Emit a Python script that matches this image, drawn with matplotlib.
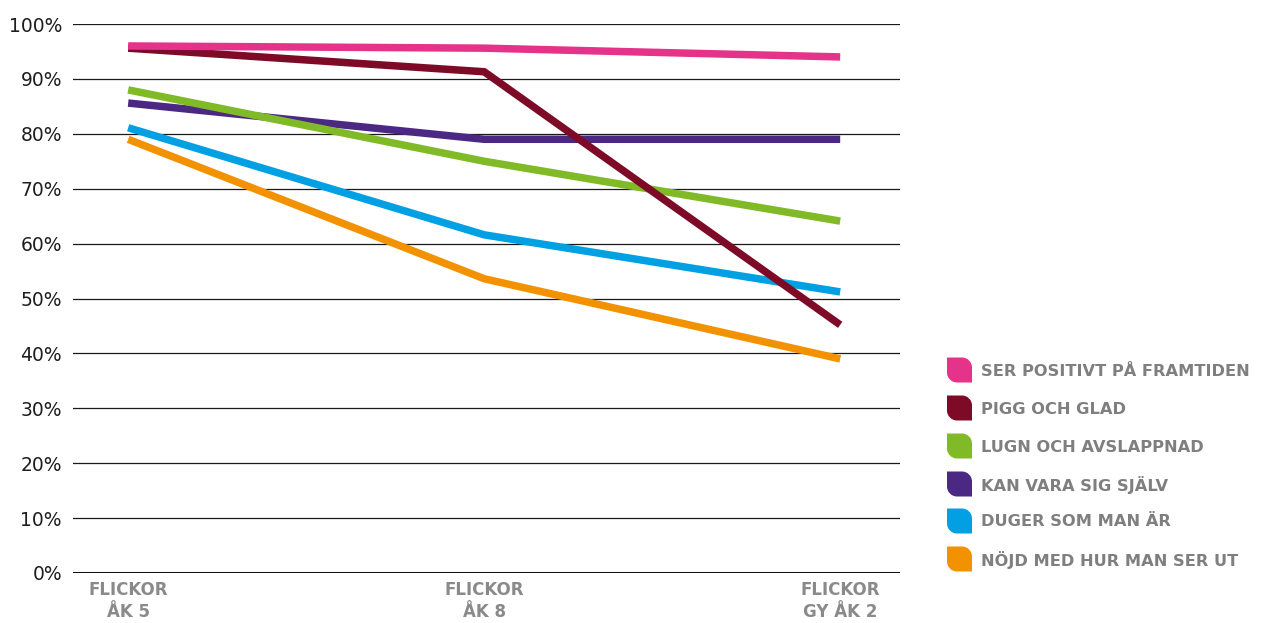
import matplotlib
matplotlib.use("Agg")
import matplotlib.pyplot as plt
from matplotlib.patches import PathPatch
from matplotlib.path import Path
from matplotlib.transforms import IdentityTransform
from matplotlib.ticker import MultipleLocator, FuncFormatter

groups = ["FLICKOR\nÅK 5", "FLICKOR\nÅK 8", "FLICKOR\nGY ÅK 2"]

series_names = [
    "SER POSITIVT PÅ FRAMTIDEN",
    "PIGG OCH GLAD",
    "LUGN OCH AVSLAPPNAD",
    "KAN VARA SIG SJÄLV",
    "DUGER SOM MAN ÄR",
    "NÖJD MED HUR MAN SER UT",
]
ser_positivt = [96.0, 95.6, 94.0]
pigg_glad = [95.6, 91.3, 45.2]
lugn = [88.0, 75.0, 64.1]
kan_vara = [85.6, 79.0, 79.0]
duger = [81.1, 61.6, 51.2]
nojd = [79.0, 53.6, 39.0]
series_values = [ser_positivt, pigg_glad, lugn, kan_vara, duger, nojd]
colors = ["#e5338a", "#7d0a27", "#80ba27", "#4b2883", "#00a0e3", "#f39200"]

W, H = 1262, 623
fig = plt.figure(figsize=(W / 100, H / 100), dpi=100)
ax = fig.add_axes([73 / W, (H - 573) / H, (900 - 73) / W, (573 - 24) / H])

x = list(range(len(groups)))
# draw lower series first so the top ones sit on top
for name, vals, c in reversed(list(zip(series_names, series_values, colors))):
    ax.plot(x, vals, color=c, lw=5.4, solid_capstyle="butt", solid_joinstyle="miter", zorder=3)

ax.set_xlim(-0.155, 2.168)
ax.set_ylim(0, 100)
ax.yaxis.set_major_locator(MultipleLocator(10))
ax.yaxis.set_major_formatter(FuncFormatter(lambda v, p: f"{int(v)}%"))
ax.grid(axis="y", color="#1a1a1a", lw=0.9, zorder=1)
ax.axhline(0, color="#111111", lw=2.2, zorder=2)
for s in ax.spines.values():
    s.set_visible(False)
ax.tick_params(axis="y", length=0, pad=8, labelsize=13.5, labelcolor="#1e1e1e")
for t in ax.get_yticklabels():
    t.set_fontfamily("DejaVu Sans")
ax.set_xticks(x)
ax.set_xticklabels(groups, fontfamily="DejaVu Sans", fontweight="bold", fontsize=12,
                   color="#8a8a8a", linespacing=1.25)
ax.tick_params(axis="x", length=0, pad=6)


def leaf(x0, y0, s, r):
    """Square of side s (display px, top-left at x0,y0) with rounded
    top-right and bottom-left corners."""
    k = 0.5523 * r
    yt, yb = H - y0, H - y0 - s
    xl, xr = x0, x0 + s
    verts = [
        (xl, yt),
        (xr - r, yt),
        (xr - r + k, yt), (xr, yt - r + k), (xr, yt - r),
        (xr, yb),
        (xl + r, yb),
        (xl + r - k, yb), (xl, yb + r - k), (xl, yb + r),
        (xl, yt),
        (xl, yt),
    ]
    codes = [Path.MOVETO, Path.LINETO,
             Path.CURVE4, Path.CURVE4, Path.CURVE4,
             Path.LINETO, Path.LINETO,
             Path.CURVE4, Path.CURVE4, Path.CURVE4,
             Path.LINETO, Path.CLOSEPOLY]
    return Path(verts, codes)


# legend
leg_y = [370, 408, 446, 484, 521, 559]
for name, c, yc in zip(series_names, colors, leg_y):
    patch = PathPatch(leaf(947, yc - 12.5, 25, 10), transform=IdentityTransform(),
                      facecolor=c, edgecolor="none")
    fig.add_artist(patch)
    fig.text(981 / W, (H - yc - 1) / H, name, fontfamily="DejaVu Sans", fontweight="bold",
             fontsize=11.7, color="#7f7f7f", va="center", ha="left")

fig.savefig("out.png", dpi=100, facecolor="white")
